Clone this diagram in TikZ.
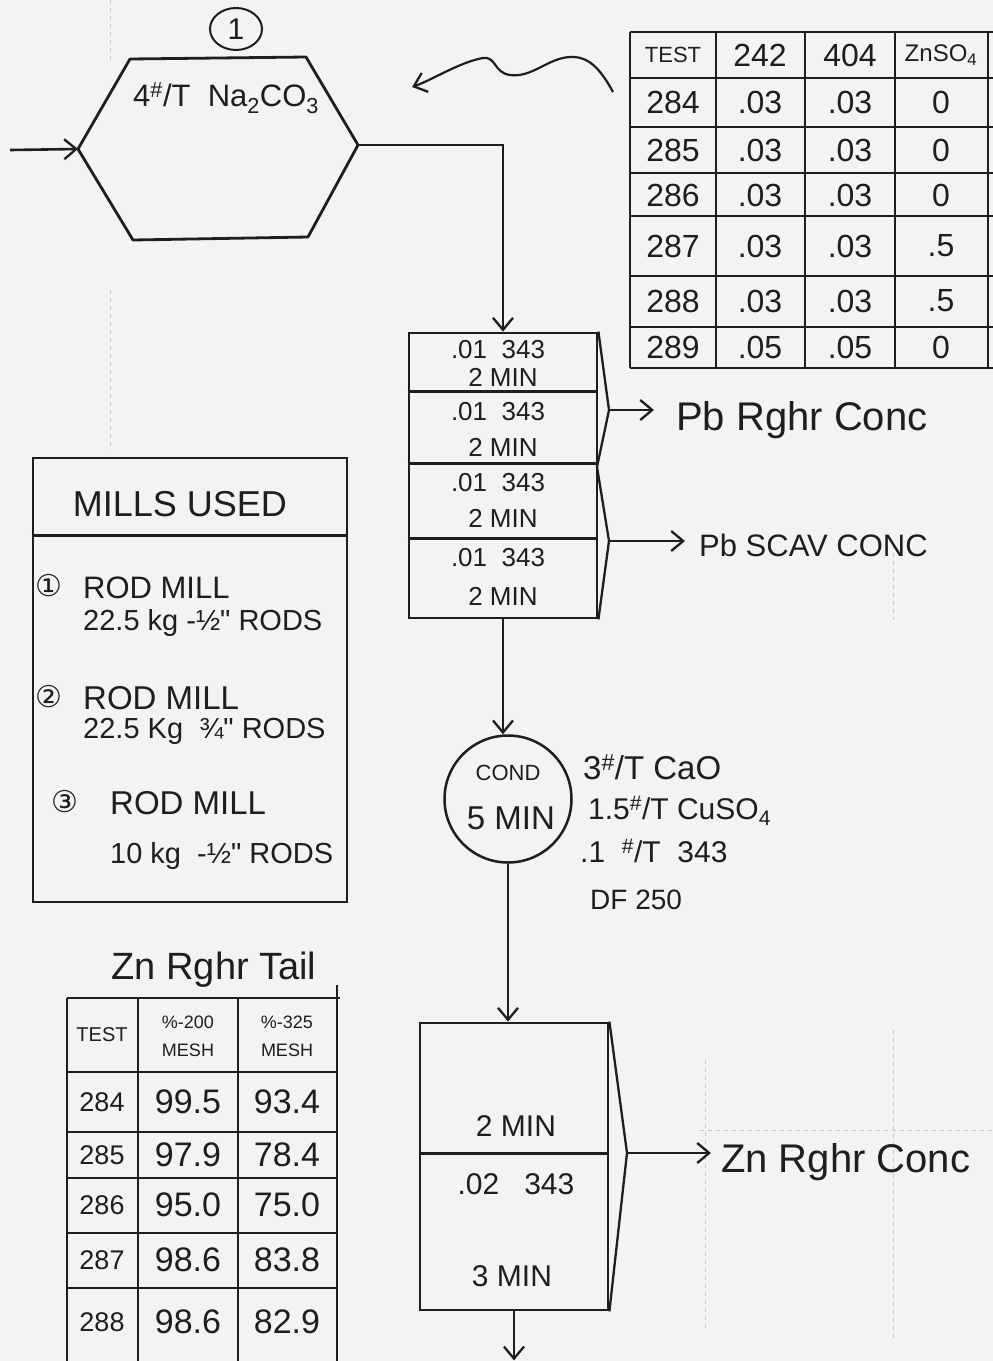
\documentclass[tikz,border=0pt]{standalone}
\usepackage{fontspec}
\setmainfont{Liberation Sans}
\newfontfamily\djv{DejaVu Sans}
\usetikzlibrary{arrows.meta,shapes.geometric,calc}
\definecolor{paper}{RGB}{243,243,241}
\definecolor{ink}{RGB}{30,30,30}
\newcommand\fsz[1]{\fontsize{#1}{#1}\selectfont}
\begin{document}
\begin{tikzpicture}[x=1pt,y=-1pt,
  inkline/.style={draw=ink,line width=2.8pt,line join=round},
  thinline/.style={draw=ink,line width=2.3pt,line join=round},
  conn/.style={draw=ink,line width=2.6pt,-{Straight Barb[length=12pt,width=20pt,line width=2.3pt]}},
  tabline/.style={draw=ink,line width=2.5pt},
  faint/.style={draw=gray!45,line width=1pt,dash pattern=on 4pt off 4pt},
  lbl/.style={text=ink,inner sep=0pt},
  boxnode/.style={rectangle,draw=ink,line width=2.8pt,inner sep=0pt},
]
\fill[paper] (0,0) rectangle (993,1361);
\useasboundingbox (0,0) rectangle (993,1361);

% faint graph-paper lines
\draw[faint] (110,0) -- (110,62);
\draw[faint] (110,290) -- (110,450);
\draw[faint] (893,545) -- (893,620);
\draw[faint] (893,1030) -- (893,1340);
\draw[faint] (705,1060) -- (705,1330);
\draw[faint] (700,1130) -- (993,1130);

% ---------------- hexagon (mill 1)
\coordinate (hTL) at (130,59);
\coordinate (hTR) at (306,57);
\coordinate (hR) at (358,145);
\coordinate (hBR) at (308,237);
\coordinate (hBL) at (133,240);
\coordinate (hL) at (78,149);
\draw[inkline] (hTL)--(hTR)--(hR)--(hBR)--(hBL)--(hL)--cycle;
\coordinate (feed) at (10,150);
\draw[conn] (feed) -- (hL);
\node[lbl,font=\fsz{31},anchor=west] (hexlbl) at (133,98) {4\textsuperscript{\#}/T\ \ Na\textsubscript{2}CO\textsubscript{3}};
\node[ellipse,draw=ink,line width=2pt,minimum width=52pt,minimum height=42pt,inner sep=0pt,font=\fsz{30},text=ink] (m1) at (236,29) {1};

% wavy pointer
\coordinate (wv1) at (613,92);
\coordinate (wv2) at (412,87);
\draw[conn,line width=2.2pt] (wv1) .. controls (600,68) and (588,56) .. (570,57)
  .. controls (548,58) and (532,78) .. (510,75)
  .. controls (494,73) and (496,56) .. (483,58)
  .. controls (460,62) and (432,80) .. (wv2);

% ---------------- top table
\foreach \y in {32,78,127,173,216,276,327,368} \draw[tabline] (630,\y) -- (993,\y);
\foreach \x in {630,716,805,895,988} \draw[tabline] (\x,32) -- (\x,368);
\node[lbl,font=\fsz{22}] (thA) at (673,55) {TEST};
\node[lbl,font=\fsz{32}] (thB) at (760,55) {242};
\node[lbl,font=\fsz{32}] (thC) at (850,55) {404};
\node[lbl,font=\fsz{24}] (thD) at (941,55) {ZnSO\textsubscript{4}};
\foreach \n/\y/\a/\b/\c/\d in {1/102/284/.03/.03/0, 2/150/285/.03/.03/0, 3/195/286/.03/.03/0, 4/246/287/.03/.03/.5, 5/301/288/.03/.03/.5, 6/347/289/.05/.05/0}{
  \node[lbl,font=\fsz{32}] (tA\n) at (673,\y) {\a};
  \node[lbl,font=\fsz{32}] (tB\n) at (760,\y) {\b};
  \node[lbl,font=\fsz{32}] (tC\n) at (850,\y) {\c};
  \node[lbl,font=\fsz{32}] (tD\n) at (941,\y) {\d};
}

% ---------------- flotation (Pb) cells
\node[boxnode,minimum width=188pt,minimum height=285pt] (flot) at (503,475.5) {};
\foreach \d in {60,132,207}
  \draw[thinline] ($(flot.north west)+(0,\d)$) -- ($(flot.north east)+(0,\d)$);
\foreach \n/\ya/\yb in {1/350/377, 2/412/447, 3/483/518, 4/558/596}{
  \node[lbl,font=\fsz{26}] (fa\n) at (498,\ya) {.01\ \ 343};
  \node[lbl,font=\fsz{26}] (fb\n) at (503,\yb) {2 MIN};
}
\coordinate (hexout) at (flot.north |- hR);
\draw[conn] (hR) -- (hexout) -- (flot.north);

\coordinate (f1) at (597,467);
\coordinate (l1) at (609,410);
\coordinate (l2) at (609,541);
\draw[thinline] (flot.north east) -- (l1) -- (f1) -- (l2) -- (flot.south east);
\node[lbl,font=\fsz{40},anchor=west] (pbr) at (676,420) {Pb Rghr Conc};
\draw[conn] (l1) -- ($(l1 -| pbr.west)+(-22,0)$);
\node[lbl,font=\fsz{31},anchor=west] (pbs) at (699,545) {Pb SCAV CONC};
\draw[conn] (l2) -- ($(l2 -| pbs.west)+(-14,0)$);

% ---------------- conditioner
\node[circle,draw=ink,line width=2.5pt,minimum size=127pt,inner sep=0pt] (cond) at (508,799) {};
\node[lbl,font=\fsz{22}] (condt) at (508,773) {COND};
\node[lbl,font=\fsz{33}] (condm) at (511,818) {5 MIN};
\draw[conn] (flot.south) -- (flot.south |- cond.north);
\node[lbl,font=\fsz{33},anchor=west] (r1) at (583,767) {3\textsuperscript{\#}/T CaO};
\node[lbl,font=\fsz{30},anchor=west] (r2) at (588,811) {1.5\textsuperscript{\#}/T CuSO\textsubscript{4}};
\node[lbl,font=\fsz{30},anchor=west] (r3) at (580,851) {.1\ \ \textsuperscript{\#}/T\ \ 343};
\node[lbl,font=\fsz{28},anchor=west] (r4) at (590,900) {DF 250};

% ---------------- Zn rougher cell
\node[boxnode,minimum width=188pt,minimum height=287pt] (zbox) at (514,1166.5) {};
\draw[thinline] ($(zbox.north west)+(0,132)$) -- ($(zbox.north east)+(0,132)$);
\node[lbl,font=\fsz{30}] (z1) at (516,1126) {2 MIN};
\node[lbl,font=\fsz{30}] (z2) at (516,1184) {.02\ \ \ 343};
\node[lbl,font=\fsz{30}] (z3) at (512,1276) {3 MIN};
\draw[conn] (cond.south) -- (cond.south |- zbox.north);
\coordinate (l3) at (627,1153);
\draw[thinline] (zbox.north east) -- (l3) -- (zbox.south east);
\node[lbl,font=\fsz{40},anchor=west] (znc) at (721,1162) {Zn Rghr Conc};
\draw[conn] (l3) -- ($(l3 -| znc.west)+(-10,0)$);
\coordinate (zout) at ($(zbox.south)+(0,49)$);
\draw[conn] (zbox.south) -- (zout);

% ---------------- mills used box
\node[boxnode,minimum width=314pt,minimum height=444pt] (mills) at (190,680) {};
\draw[thinline] ($(mills.north west)+(0,79)$) -- ($(mills.north east)+(0,79)$);
\node[lbl,font=\fsz{36}] (mt) at (180,504) {MILLS USED};
\node[lbl,font=\djv\fsz{30}] (c1) at (49,586) {①};
\node[lbl,font=\fsz{31},anchor=west] (ma1) at (83,588) {ROD MILL};
\node[lbl,font=\fsz{29},anchor=west] (mb1) at (83,623) {22.5 kg\ -½\textquotedbl{} RODS};
\node[lbl,font=\djv\fsz{30}] (c2) at (49,697) {②};
\node[lbl,font=\fsz{33},anchor=west] (ma2) at (83,698) {ROD MILL};
\node[lbl,font=\fsz{29},anchor=west] (mb2) at (83,731) {22.5 Kg\ \ ¾\textquotedbl{} RODS};
\node[lbl,font=\djv\fsz{30}] (c3) at (65,802) {③};
\node[lbl,font=\fsz{33},anchor=west] (ma3) at (110,803) {ROD MILL};
\node[lbl,font=\fsz{29},anchor=west] (mb3) at (110,856) {10 kg\ \ -½\textquotedbl{} RODS};

% ---------------- Zn rougher tail table
\node[lbl,font=\fsz{38}] (ztt) at (214,970) {Zn Rghr Tail};
\draw[tabline] (67,998) -- (340,998);
\foreach \y in {1072,1132,1178,1233,1288} \draw[tabline] (67,\y) -- (337,\y);
\foreach \x in {67,138,238} \draw[tabline] (\x,998) -- (\x,1361);
\draw[tabline] (337,985) -- (337,1361);
\node[lbl,font=\fsz{20}] (bh1) at (102,1035) {TEST};
\node[lbl,font=\fsz{18}] (bh2) at (188,1022) {\%-200};
\node[lbl,font=\fsz{18}] (bh3) at (188,1050) {MESH};
\node[lbl,font=\fsz{18}] (bh4) at (287,1022) {\%-325};
\node[lbl,font=\fsz{18}] (bh5) at (287,1050) {MESH};
\foreach \n/\y/\a/\b/\c in {1/1102/284/99.5/93.4, 2/1155/285/97.9/78.4, 3/1205/286/95.0/75.0, 4/1260/287/98.6/83.8, 5/1322/288/98.6/82.9}{
  \node[lbl,font=\fsz{27}] (bA\n) at (102,\y) {\a};
  \node[lbl,font=\fsz{34}] (bB\n) at (188,\y) {\b};
  \node[lbl,font=\fsz{34}] (bC\n) at (287,\y) {\c};
}
\end{tikzpicture}
\end{document}
